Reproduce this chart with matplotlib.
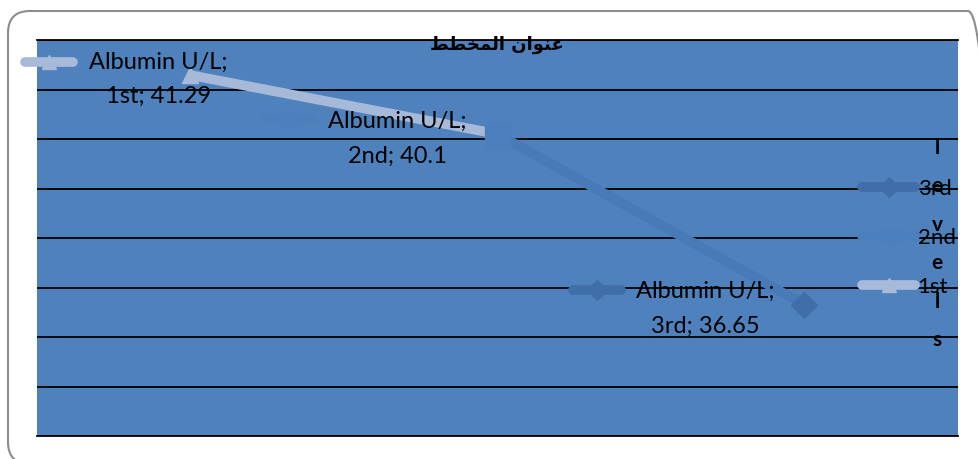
import numpy as np
import matplotlib
matplotlib.use("Agg")
import matplotlib.pyplot as plt
from matplotlib.lines import Line2D
from matplotlib.patches import FancyBboxPatch
from matplotlib.transforms import IdentityTransform

# data
series_name = "Albumin U/L"
categories = ["1st", "2nd", "3rd"]
values = [41.29, 40.1, 36.65]
legend_title = "levels"
# chart title "عنوان المخطط", written in its shaped (presentation) forms, visual order
chart_title = "\uFEC2\uFEC4\uFEA8\uFEE4\uFEDF\uFE8D \uFEE5\uFE8D\uFEEE\uFEE8\uFECB"

point_colors = ["#a8bad9", "#4c7fbe", "#3f6ea8"]
segment_colors = ["#a7b9d8", "#497ab8"]
markers = ["^", "s", "D"]
marker_sizes = [12, 18, 13]

W, H = 979, 459
fig = plt.figure(figsize=(W / 100, H / 100), dpi=100)
fig.patch.set_facecolor("white")

# rounded chart frame, in pixels (right and bottom edges run past the picture)
frame = FancyBboxPatch((8, -5), 982, 453,
                       boxstyle="round,pad=0,rounding_size=22",
                       transform=IdentityTransform(), facecolor="none",
                       edgecolor="#8c8c8c", lw=1.5, clip_on=False)
fig.add_artist(frame)

ax = fig.add_axes([37 / W, (H - 436) / H, (958 - 37) / W, (436 - 40) / H])
ax.set_facecolor("#4f81bd")
x = np.arange(len(categories))
ax.set_xlim(-0.5, 2.5)
ax.set_ylim(34, 42)
ax.set_yticks(range(34, 43))
ax.set_xticks([])
ax.grid(axis="y", color="black", lw=1.3)
ax.tick_params(length=0, labelleft=False, labelbottom=False)
for side in ["left", "right"]:
    ax.spines[side].set_visible(False)
for side in ["top", "bottom"]:
    ax.spines[side].set_color("black")
    ax.spines[side].set_linewidth(1.3)

# line, one segment at a time
for i in range(len(values) - 1):
    ax.plot(x[i:i + 2], values[i:i + 2], color=segment_colors[i], lw=7,
            solid_capstyle="butt", zorder=3)
for i, v in enumerate(values):
    ax.plot(x[i], v, marker=markers[i], ms=marker_sizes[i], color=point_colors[i],
            mec=point_colors[i], zorder=4)

lato = {"family": "Lato", "size": 17}

# data labels with their legend keys
text_off = [(-32, -4), (-100, -5), (-99, -4)]
key_off = [(-141, 13), (-208, 15), (-207, 15)]
pts = ax.transData.transform(np.column_stack([x, values]))
for i, v in enumerate(values):
    ax.annotate(f"{series_name};\n{categories[i]}; {v}", (x[i], v),
                xytext=text_off[i], textcoords="offset pixels",
                ha="center", va="center", linespacing=1.8, zorder=5, **lato)
    kx = pts[i, 0] + key_off[i][0]
    ky = pts[i, 1] + key_off[i][1]
    fig.add_artist(Line2D([kx - 24, kx + 24], [ky, ky], transform=IdentityTransform(),
                          color=point_colors[i], lw=7, solid_capstyle="round", zorder=5))
    fig.add_artist(Line2D([kx], [ky], transform=IdentityTransform(), marker=markers[i],
                          ms=10, color=point_colors[i], mec=point_colors[i], zorder=5))

# legend
handles = [Line2D([], [], color=point_colors[i], lw=7, solid_capstyle="round",
                  marker=markers[i], ms=10, mec=point_colors[i]) for i in range(3)]
ax.legend(handles[::-1], categories[::-1], loc="center left",
          bbox_to_anchor=(862 / W, (H - 238) / H), bbox_transform=fig.transFigure,
          frameon=False, handlelength=2.4, handletextpad=0.1, labelspacing=1.3,
          borderpad=0, borderaxespad=0, prop={"family": "Lato", "size": 16})
fig.text(937 / W, 1 - 244 / H, "\n".join(legend_title), ha="center", va="center",
         fontsize=15, fontweight="bold", family="Lato", linespacing=2.15)

fig.text(497 / W, 1 - 45 / H, chart_title, ha="center", va="center",
         fontsize=13, fontweight="bold", family="DejaVu Sans")

fig.savefig("out.png", dpi=100)
